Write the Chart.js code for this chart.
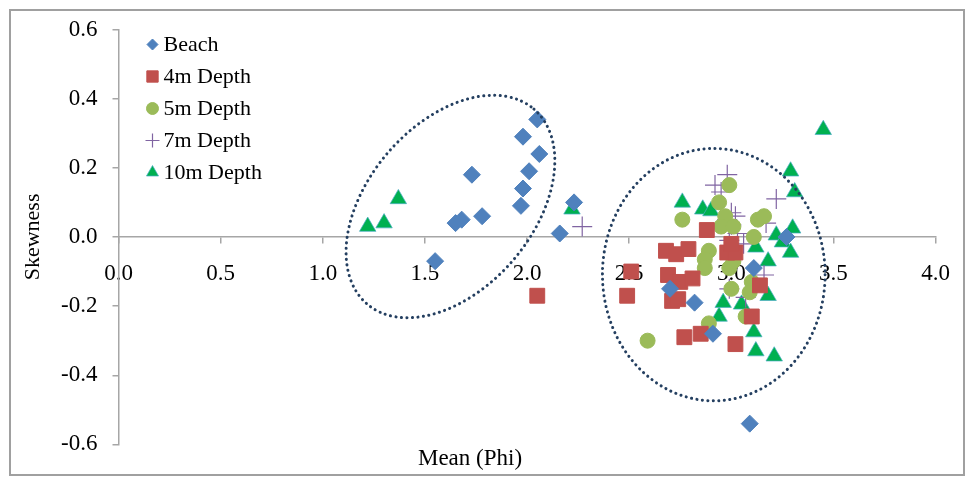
<!DOCTYPE html>
<html>
<head>
<meta charset="utf-8">
<script src="https://cdn.jsdelivr.net/npm/chart.js@4/dist/chart.umd.min.js"></script>
<style>
  body { margin: 0; background: #fff; }
</style>
</head>
<body>
<canvas id="skewChart" width="967" height="477"></canvas>
<script>
const seriesNames = ['Beach', '4m Depth', '5m Depth', '7m Depth', '10m Depth'];

const beachMean = [1.55, 1.65, 1.68, 1.73, 1.78, 1.97, 1.98, 2.01, 1.98, 2.05, 2.06, 2.16, 2.23, 2.70, 2.82, 2.91, 3.11, 3.27, 3.09];
const beachSkew = [-0.07, 0.04, 0.05, 0.18, 0.06, 0.09, 0.14, 0.19, 0.29, 0.34, 0.24, 0.01, 0.10, -0.15, -0.19, -0.28, -0.09, 0.00, -0.54];

const depth4Mean = [2.05, 2.88, 2.68, 2.73, 2.79, 2.98, 3.02, 3.00, 2.51, 2.49, 2.69, 2.75, 2.81, 2.71, 2.74, 2.77, 2.85, 3.02, 3.14, 3.10];
const depth4Skew = [-0.17, 0.02, -0.04, -0.05, -0.035, -0.045, -0.045, -0.02, -0.10, -0.17, -0.11, -0.13, -0.12, -0.185, -0.18, -0.29, -0.28, -0.31, -0.14, -0.23];

const depth5Mean = [2.76, 2.99, 2.94, 2.97, 2.95, 3.01, 3.13, 3.16, 3.11, 2.89, 2.87, 2.87, 2.99, 3.01, 3.10, 3.09, 3.07, 2.89, 2.59, 3.00];
const depth5Skew = [0.05, 0.15, 0.10, 0.06, 0.03, 0.03, 0.05, 0.06, 0.00, -0.04, -0.065, -0.09, -0.09, -0.07, -0.13, -0.16, -0.23, -0.25, -0.30, -0.15];

const depth7Mean = [2.27, 2.98, 2.92, 2.95, 3.22, 3.00, 3.02, 2.98, 3.00, 3.17, 3.03, 2.99, 3.06, 2.99, 3.07, 3.16];
const depth7Skew = [0.03, 0.18, 0.15, 0.13, 0.11, 0.07, 0.06, 0.05, 0.035, 0.04, 0.01, -0.01, -0.02, -0.15, -0.175, -0.11];

const depth10Mean = [1.22, 1.30, 1.37, 2.22, 3.45, 3.29, 3.31, 3.30, 3.22, 3.25, 3.29, 3.18, 3.12, 2.76, 2.86, 2.90, 3.18, 2.96, 3.05, 2.94, 3.11, 3.12, 3.21];
const depth10Skew = [0.03, 0.04, 0.11, 0.08, 0.31, 0.19, 0.13, 0.025, 0.005, -0.015, -0.045, -0.07, -0.03, 0.10, 0.08, 0.075, -0.17, -0.19, -0.195, -0.23, -0.275, -0.33, -0.345];

const xTicks = [0.0, 0.5, 1.0, 1.5, 2.0, 2.5, 3.0, 3.5, 4.0];
const yTicks = [-0.6, -0.4, -0.2, 0.0, 0.2, 0.4, 0.6];

const serif = "'Liberation Serif', 'Times New Roman', serif";
const axisGrey = '#A6A6A6';

function toPoints(xs, ys) {
  return xs.map((x, i) => ({ x: x, y: ys[i] }));
}

function fmt(v) {
  if (Math.abs(v) < 1e-9) v = 0;
  return v.toFixed(1);
}

const styles = [
  { pointStyle: 'rectRot',  radius: 8.5,  color: '#4F81BD', border: '#4F81BD', bw: 1,   lr: 5.5 },
  { pointStyle: 'rect',     radius: 10.5, color: '#C0504D', border: '#C0504D', bw: 1,   lr: 8 },
  { pointStyle: 'circle',   radius: 7.5,  color: '#9BBB59', border: '#9BBB59', bw: 1,   lr: 6 },
  { pointStyle: 'cross',    radius: 10,   color: '#8064A2', border: '#8064A2', bw: 1.2, lr: 7 },
  { pointStyle: 'triangle', radius: 9.5,  color: '#00B050', border: 'rgba(75,172,198,0.7)', bw: 1, lr: 7 },
];

const seriesData = [
  toPoints(beachMean, beachSkew),
  toPoints(depth4Mean, depth4Skew),
  toPoints(depth5Mean, depth5Skew),
  toPoints(depth7Mean, depth7Skew),
  toPoints(depth10Mean, depth10Skew),
];

const datasets = seriesNames.map((name, i) => ({
  label: name,
  data: seriesData[i],
  pointStyle: styles[i].pointStyle,
  pointRadius: styles[i].radius,
  pointHoverRadius: styles[i].radius,
  backgroundColor: styles[i].color,
  borderColor: styles[i].border,
  borderWidth: styles[i].bw,
  showLine: false,
}));

// dotted ellipses marking the two groups (centres in data units)
const groupRings = [
  { cx: 1.625, cy: 0.088, a: 0.628, b: 0.404, angle: -49.4 },
  { cx: 2.914, cy: -0.109, rx: 0.545, ry: 0.365 },
];

const framePlugin = {
  id: 'frame',
  beforeDraw(chart) {
    const ctx = chart.ctx;
    ctx.save();
    ctx.fillStyle = '#fff';
    ctx.fillRect(0, 0, chart.width, chart.height);
    ctx.strokeStyle = '#A0A0A0';
    ctx.lineWidth = 2;
    ctx.strokeRect(10, 10, 954, 465);
    ctx.restore();
  }
};

const ringPlugin = {
  id: 'rings',
  afterDatasetsDraw(chart) {
    const ctx = chart.ctx;
    const xs = chart.scales.x, ys = chart.scales.y;
    const unitX = xs.getPixelForValue(1) - xs.getPixelForValue(0);
    const unitY = ys.getPixelForValue(0) - ys.getPixelForValue(1);
    ctx.save();
    ctx.strokeStyle = '#243F60';
    ctx.lineWidth = 3;
    ctx.lineCap = 'round';
    ctx.setLineDash([0.1, 5.4]);
    groupRings.forEach(r => {
      const px = xs.getPixelForValue(r.cx);
      const py = ys.getPixelForValue(r.cy);
      ctx.beginPath();
      if (r.angle !== undefined) {
        ctx.ellipse(px, py, r.a * unitX, r.b * unitX, r.angle * Math.PI / 180, 0, Math.PI * 2);
      } else {
        ctx.ellipse(px, py, r.rx * unitX, r.ry * unitY, 0, 0, Math.PI * 2);
      }
      ctx.stroke();
    });
    ctx.restore();
  }
};

const legendPlugin = {
  id: 'innerLegend',
  afterDraw(chart) {
    const ctx = chart.ctx;
    const area = chart.chartArea;
    const mx = area.left + 34;
    const tx = area.left + 45;
    let y = area.top + 15;
    ctx.save();
    ctx.font = '22px ' + serif;
    ctx.textBaseline = 'middle';
    ctx.textAlign = 'left';
    seriesNames.forEach((name, i) => {
      const s = styles[i];
      ctx.fillStyle = s.color;
      ctx.strokeStyle = s.border;
      ctx.lineWidth = s.bw;
      Chart.helpers.drawPoint(ctx, { pointStyle: s.pointStyle, radius: s.lr, borderWidth: s.bw, rotation: 0 }, mx, y);
      ctx.fillStyle = '#000';
      ctx.fillText(name, tx, y + 1);
      y += 32;
    });
    ctx.restore();
  }
};

const ctx = document.getElementById('skewChart').getContext('2d');
const skewChart = new Chart(ctx, {
  type: 'scatter',
  data: { datasets: datasets },
  options: {
    responsive: false,
    animation: false,
    events: [],
    layout: { padding: { left: 0, right: 27, top: 29.5, bottom: 0 } },
    scales: {
      x: {
        type: 'linear',
        position: { y: 0 },
        min: xTicks[0],
        max: xTicks[xTicks.length - 1],
        afterBuildTicks: (s) => { s.ticks = xTicks.map(v => ({ value: v })); },
        afterFit: (s) => { s.height = 1; },
        ticks: {
          color: '#000',
          padding: 17,
          maxRotation: 0,
          autoSkip: false,
          font: { family: serif, size: 23 },
          callback: (v) => fmt(v),
        },
        grid: { drawOnChartArea: false, drawTicks: true, tickLength: 6, color: axisGrey, lineWidth: 1.5 },
        border: { color: axisGrey, width: 1.5 },
      },
      y: {
        type: 'linear',
        position: 'left',
        min: yTicks[0],
        max: yTicks[yTicks.length - 1],
        afterBuildTicks: (s) => { s.ticks = yTicks.map(v => ({ value: v })); },
        afterFit: (s) => { s.width = 118.5; },
        title: {
          display: true,
          text: 'Skewness',
          color: '#000',
          font: { family: serif, size: 22 },
          padding: { top: 20, bottom: 0 },
        },
        ticks: {
          color: '#000',
          padding: 15,
          autoSkip: false,
          font: { family: serif, size: 23 },
          callback: (v) => fmt(v),
        },
        grid: { drawOnChartArea: false, drawTicks: true, tickLength: 6, color: axisGrey, lineWidth: 1.5 },
        border: { color: axisGrey, width: 1.5 },
      },
    },
    plugins: {
      legend: { display: false },
      tooltip: { enabled: false },
      title: {
        display: true,
        position: 'bottom',
        text: 'Mean (Phi)',
        color: '#000',
        font: { family: serif, size: 23, weight: 'normal' },
        padding: { top: 1, bottom: 4 },
      },
    },
  },
  plugins: [framePlugin, ringPlugin, legendPlugin],
});
</script>
</body>
</html>
